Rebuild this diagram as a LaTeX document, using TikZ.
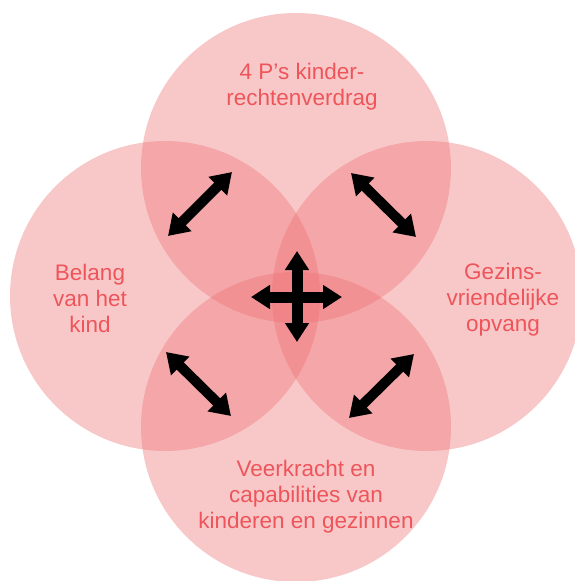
\documentclass[tikz,border=0pt]{standalone}
\usepackage{fontspec}
\setmainfont{Liberation Sans}
\usetikzlibrary{arrows.meta}
\definecolor{circfill}{RGB}{237,110,113}
\definecolor{labeltext}{RGB}{238,85,90}
\tikzset{
  venn/.style={circle, fill=circfill, fill opacity=0.38, draw=none, minimum size=310pt, inner sep=0pt},
  lbl/.style={text=labeltext, align=center, font=\fontsize{22.5}{26}\selectfont, inner sep=0pt},
  dblarrow/.style={line width=10pt, draw=black, {Triangle[width=25pt,length=20pt]}-{Triangle[width=25pt,length=20pt]}},
  crossarrow/.style={line width=11pt, draw=black, {Triangle[width=23pt,length=19pt]}-{Triangle[width=23pt,length=19pt]}}
}
\begin{document}
\begin{tikzpicture}[x=1pt,y=-1pt]
\useasboundingbox (0,0) rectangle (574,581);
\node[venn] (ctop) at (296,168) {};
\node[venn] (cleft) at (165,296) {};
\node[venn] (cright) at (427,296) {};
\node[venn] (cbottom) at (296,427) {};

\node[lbl] (ltop) at (302,87) {4 P’s kinder-\\rechtenverdrag};
\node[lbl] (lleft) at (90,298) {Belang\\van het\\kind};
\node[lbl] (lright) at (503,300) {Gezins-\\vriendelijke\\opvang};
\node[lbl] (lbottom) at (306,497) {Veerkracht en\\capabilities van\\kinderen en gezinnen};

\coordinate (tl1) at (168,236);
\coordinate (tl2) at (232,172);
\coordinate (tr1) at (351,173);
\coordinate (tr2) at (416,237);
\coordinate (bl1) at (166,352);
\coordinate (bl2) at (231,416);
\coordinate (br1) at (414,354);
\coordinate (br2) at (349,418);
\coordinate (cu) at (297,251);
\coordinate (cd) at (297,342);
\coordinate (cl) at (251,297);
\coordinate (cr) at (342,297);

\draw[dblarrow] (tl1) -- (tl2);
\draw[dblarrow] (tr1) -- (tr2);
\draw[dblarrow] (bl1) -- (bl2);
\draw[dblarrow] (br1) -- (br2);
\draw[crossarrow] (cu) -- (cd);
\draw[crossarrow] (cl) -- (cr);
\end{tikzpicture}
\end{document}
